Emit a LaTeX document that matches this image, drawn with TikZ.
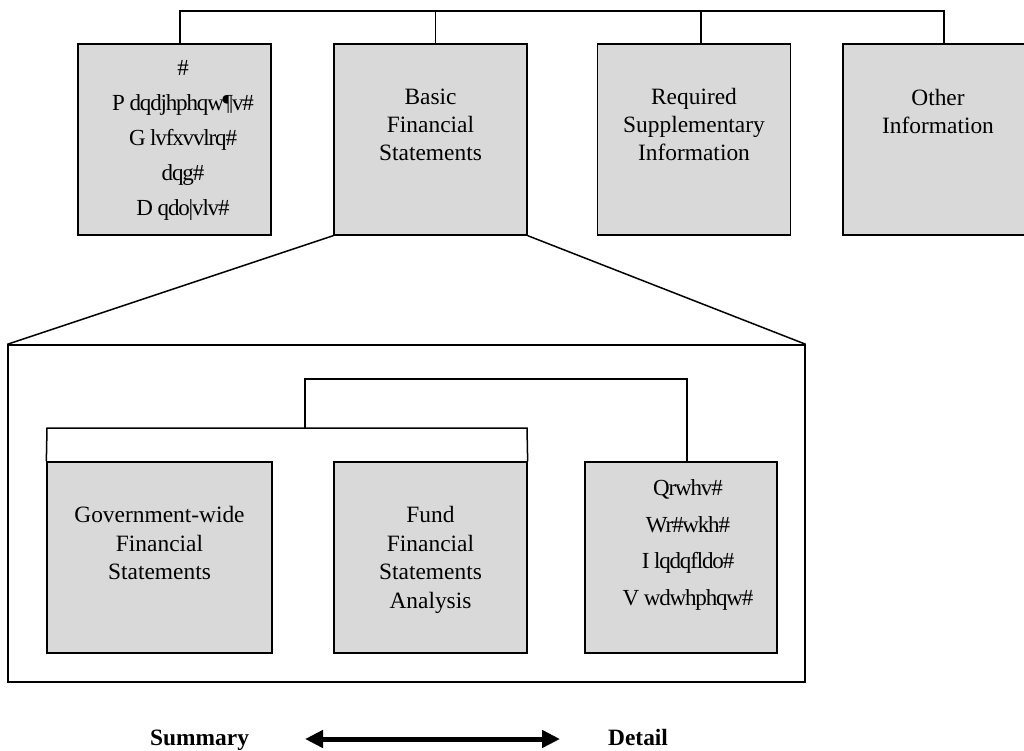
\documentclass[tikz,border=0pt]{standalone}
\usepackage{fontspec}
\setmainfont{Liberation Serif}
\usetikzlibrary{arrows.meta}
\begin{document}
\begin{tikzpicture}[x=1pt,y=-1pt,
  box/.style={draw=black, line width=1.3pt, fill=boxgray, inner sep=0pt},
  txt/.style={font=\fontsize{23.4}{28}\selectfont, inner sep=0pt, anchor=base},
  garb/.style={font=\fontsize{23}{28}\selectfont\addfontfeature{LetterSpace=-5}, inner sep=0pt, anchor=base},
  conn/.style={line width=1.5pt},
  bar/.style={line width=2.4pt}]
\definecolor{boxgray}{HTML}{D9D9D9}
\clip (0,0) rectangle (1024,751);
% top row boxes
\node[box, minimum width=193pt, minimum height=191pt] (b1) at (174.5,139.5) {};
\node[box, minimum width=193pt, minimum height=191pt] (b2) at (430.5,139.5) {};
\node[box, minimum width=193pt, minimum height=191pt] (b3) at (694,139.5) {};
\node[box, minimum width=202pt, minimum height=191pt] (b4) at (944,139.5) {};
% top connectors
\coordinate (t1) at (180,11);
\coordinate (t2) at (435.5,11);
\coordinate (t3) at (701,11);
\coordinate (t4) at (944,11);
\draw[bar] ([xshift=-0.8pt]t1) -- ([xshift=0.8pt]t4);
\draw[conn] (t1) -- (t1 |- b1.north);
\draw[conn] (t2) -- (t2 |- b2.north);
\draw[conn] (t3) -- (t3 |- b3.north);
\draw[conn] (t4) -- (t4 |- b4.north);
% top texts
\foreach \t [count=\i] in {\#,P dqdjhphqw¶v\#,G lvfxvvlrq\#,dqg\#,D qdo|vlv\#}
  \node[garb] (la\i) at ({183},{75.5+35*(\i-1)}) {\t};
\foreach \t [count=\i] in {Basic,Financial,Statements}
  \node[txt] (lb\i) at ({430.5},{104.5+28*(\i-1)}) {\t};
\foreach \t [count=\i] in {Required,Supplementary,Information}
  \node[txt] (lc\i) at ({694},{104.5+28*(\i-1)}) {\t};
\foreach \t [count=\i] in {Other,Information}
  \node[txt] (ld\i) at ({938},{105.5+28.5*(\i-1)}) {\t};
% frame
\node[draw=black, line width=1.4pt, inner sep=0pt, minimum width=797pt, minimum height=337pt] (fr) at (406.5,513.5) {};
\draw[conn] (b2.south west) -- (fr.north west);
\draw[conn] (b2.south east) -- (fr.north east);
% inner boxes
\node[box, minimum width=225pt, minimum height=191pt] (g1) at (159.5,557.5) {};
\node[box, minimum width=193pt, minimum height=191pt] (g2) at (430.5,557.5) {};
\node[box, minimum width=192pt, minimum height=191pt] (g3) at (681,557.5) {};
\foreach \t [count=\i] in {Government-wide,Financial,Statements}
  \node[txt] (ma\i) at ({159.5},{522.5+28.5*(\i-1)}) {\t};
\foreach \t [count=\i] in {Fund,Financial,Statements,Analysis}
  \node[txt] (mb\i) at ({430.5},{522.5+28.5*(\i-1)}) {\t};
\foreach \t [count=\i] in {Qrwhv\#,Wr\#wkh\#,I lqdqfldo\#,V wdwhphqw\#}
  \node[garb] (mc\i) at ({688},{495.5+36.5*(\i-1)}) {\t};
% inner connectors
\coordinate (k1) at (47,428);
\coordinate (k2) at (527,428);
\coordinate (km) at (305,428);
\coordinate (kt) at (305,379);
\coordinate (kr) at (687,379);
\draw[conn] (g1.north west) -- (k1) -- (k2) -- (g2.north east);
\draw[conn] (km) -- (kt) -- (kr) -- (kr |- g3.north);
% bottom
\node[font=\fontsize{23.4}{28}\selectfont\bfseries, anchor=base west, inner sep=0pt] (su) at (150,745) {Summary};
\node[font=\fontsize{23.4}{28}\selectfont\bfseries, anchor=base west, inner sep=0pt] (de) at (608,745) {Detail};
\coordinate (a1) at (305,739);
\coordinate (a2) at (560,739);
\draw[line width=5pt, {Triangle[length=18pt,width=17pt]}-{Triangle[length=18pt,width=17pt]}] (a1) -- (a2);
\end{tikzpicture}
\end{document}
